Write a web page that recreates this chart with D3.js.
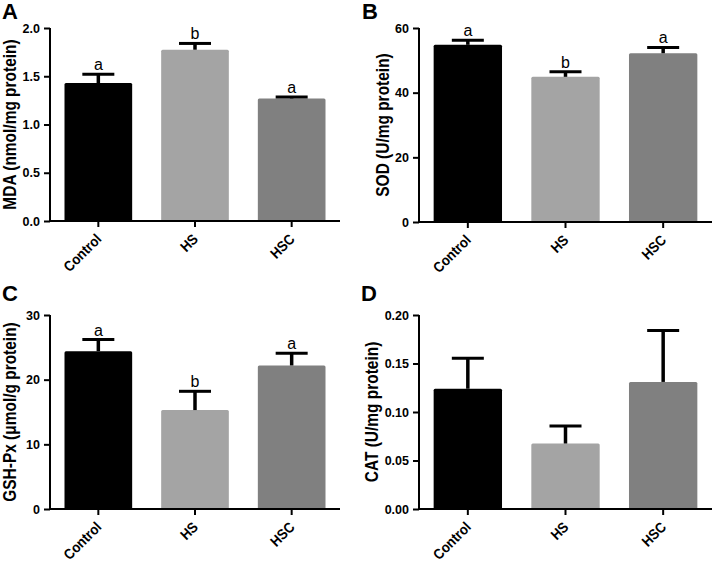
<!DOCTYPE html>
<html><head><meta charset="utf-8">
<script src="https://cdn.jsdelivr.net/npm/d3@7"></script>
<style>body{margin:0;background:#fff;} svg{display:block;font-family:"Liberation Sans",Arial,sans-serif;}</style>
</head><body>
<svg id="c" width="714" height="562"></svg>
<script>
const categories = ["Control", "HS", "HSC"];
const barColors = ["#000000", "#a4a4a4", "#808080"];

const mdaMean = [1.43, 1.775, 1.27];
const mdaErr  = [0.09, 0.065, 0.015];
const mdaSig  = ["a", "b", "a"];
const mdaTicks = [0.0, 0.5, 1.0, 1.5, 2.0];

const sodMean = [54.8, 44.9, 52.2];
const sodErr  = [1.4, 1.6, 1.8];
const sodSig  = ["a", "b", "a"];
const sodTicks = [0, 20, 40, 60];

const gshMean = [24.4, 15.3, 22.2];
const gshErr  = [1.8, 2.9, 1.9];
const gshSig  = ["a", "b", "a"];
const gshTicks = [0, 10, 20, 30];

const catMean = [0.124, 0.0675, 0.131];
const catErr  = [0.0315, 0.018, 0.053];
const catSig  = ["", "", ""];
const catTicks = [0.00, 0.05, 0.10, 0.15, 0.20];

const panels = [
  {letter:"A", title:"MDA (nmol/mg protein)", mean:mdaMean, err:mdaErr, sig:mdaSig, ticks:mdaTicks, max:2.0, fmt:d3.format(".1f"),
   x0:50, x1:340, y0:221, y1:28, lx:2, ly:19, tx:10},
  {letter:"B", title:"SOD (U/mg protein)", mean:sodMean, err:sodErr, sig:sodSig, ticks:sodTicks, max:60, fmt:d3.format("d"),
   x0:419, x1:712, y0:222, y1:28, lx:362, ly:19, tx:383},
  {letter:"C", title:"GSH-Px (μmol/g protein)", mean:gshMean, err:gshErr, sig:gshSig, ticks:gshTicks, max:30, fmt:d3.format("d"),
   x0:50, x1:340, y0:509, y1:315, lx:2, ly:301, tx:10},
  {letter:"D", title:"CAT (U/mg protein)", mean:catMean, err:catErr, sig:catSig, ticks:catTicks, max:0.20, fmt:d3.format(".2f"),
   x0:419, x1:712, y0:509, y1:315, lx:361, ly:301, tx:372}
];

const svg = d3.select("#c");

panels.forEach(p => {
  const g = svg.append("g");
  const x = d3.scaleBand().domain(categories).range([p.x0, p.x1]).paddingInner(0.3).paddingOuter(0.15);
  const y = d3.scaleLinear().domain([0, p.max]).range([p.y0, p.y1]);
  const data = categories.map((c,i)=>({c, m:p.mean[i], e:p.err[i], s:p.sig[i], col:barColors[i]}));

  g.selectAll("rect.bar").data(data).join("rect")
    .attr("x", d=>x(d.c)).attr("width", x.bandwidth())
    .attr("y", d=>y(d.m)).attr("height", d=>y(0)-y(d.m))
    .attr("rx", 1.5)
    .attr("fill", d=>d.col);

  const cx = d=>x(d.c)+x.bandwidth()/2;
  g.selectAll("line.ev").data(data).join("line")
    .attr("x1", cx).attr("x2", cx)
    .attr("y1", d=>y(d.m)).attr("y2", d=>y(d.m+d.e))
    .attr("stroke","#000").attr("stroke-width",3.5);
  g.selectAll("line.ec").data(data).join("line")
    .attr("x1", d=>cx(d)-16).attr("x2", d=>cx(d)+16)
    .attr("y1", d=>y(d.m+d.e)).attr("y2", d=>y(d.m+d.e))
    .attr("stroke","#000").attr("stroke-width",3);
  g.selectAll("text.sig").data(data).join("text")
    .attr("x", cx).attr("y", d=>y(d.m+d.e)-4)
    .attr("text-anchor","middle").attr("font-size",16).attr("fill","#000")
    .text(d=>d.s);

  const ya = d3.axisLeft(y).tickValues(p.ticks).tickFormat(p.fmt).tickSize(6).tickPadding(4);
  const yg = g.append("g").attr("transform",`translate(${p.x0},0)`).call(ya);
  yg.select(".domain").attr("d", `M0,${p.y1}V${p.y0}`).attr("stroke-width",2);
  yg.selectAll(".tick line").attr("stroke-width",2);
  yg.selectAll(".tick text").attr("font-size",12.5).attr("font-weight","bold").attr("fill","#000")
    .attr("font-family","Liberation Sans, Arial, sans-serif");

  const xa = d3.axisBottom(x).tickSize(6).tickPadding(3);
  const xg = g.append("g").attr("transform",`translate(0,${p.y0})`).call(xa);
  xg.select(".domain").attr("d", `M${p.x0-1},0H${p.x1}`).attr("stroke-width",2);
  xg.selectAll(".tick line").attr("stroke-width",2);
  xg.selectAll(".tick text")
    .attr("font-size",14.5).attr("font-weight","bold").attr("fill","#000")
    .attr("font-family","Liberation Sans, Arial, sans-serif")
    .attr("text-anchor","end").attr("dy",null).attr("y",null)
    .attr("transform","translate(4,19) rotate(-45) scale(0.9,1)");

  g.append("text")
    .attr("transform",`translate(${p.tx},${(p.y0+p.y1)/2}) rotate(-90) scale(0.86,1)`)
    .attr("text-anchor","middle").attr("dy","0.35em")
    .attr("font-size",18).attr("font-weight","bold").attr("fill","#000")
    .text(p.title);

  g.append("text").attr("x",p.lx).attr("y",p.ly)
    .attr("font-size",22).attr("font-weight","bold").attr("fill","#000")
    .text(p.letter);
});
</script>
</body></html>
